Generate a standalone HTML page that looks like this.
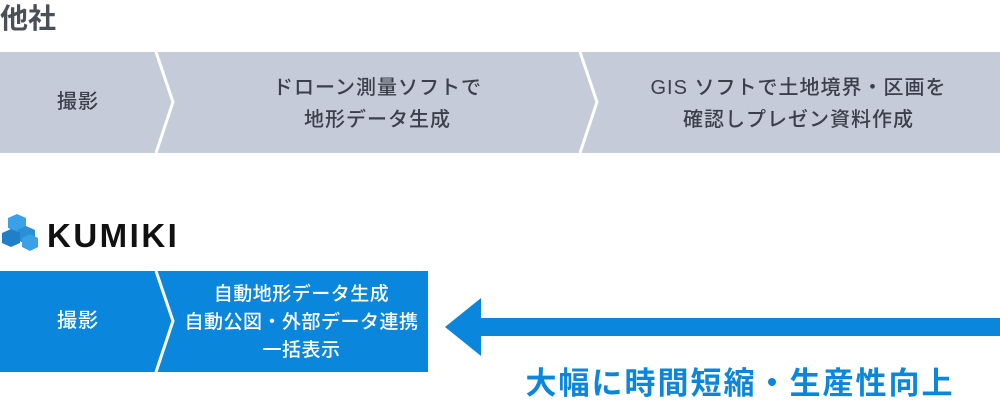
<!DOCTYPE html>
<html><head><meta charset="utf-8"><style>
body{margin:0;width:1000px;height:400px;background:#fff;position:relative;overflow:hidden;font-family:"Liberation Sans","Noto Sans CJK JP",sans-serif}
.t{position:absolute;text-align:center;line-height:32px;font-size:20px;letter-spacing:1px;font-weight:500}
</style></head><body>
<div class="t" style="left:0;top:0;font-size:28px;font-weight:bold;color:#4a4f58;line-height:38px;text-align:left;letter-spacing:0">他社</div>
<svg width="1000" height="400" style="position:absolute;left:0;top:0">
<rect x="0" y="52" width="1000" height="101" fill="#c5cbd9"/>
<polyline points="156,52 173,102 156,153" fill="none" stroke="#fff" stroke-width="3"/>
<polyline points="580,52 597,102 580,153" fill="none" stroke="#fff" stroke-width="3"/>
<rect x="0" y="271" width="428" height="101" fill="#0a87dc"/>
<polyline points="156,271 173,321 156,372" fill="none" stroke="#fff" stroke-width="3"/>
<rect x="480" y="318" width="520" height="18" fill="#0a87dc"/>
<polygon points="445,327 481,298 481,356" fill="#0a87dc"/>
<g>
<polygon points="17,214 26,218 26,228 17,232 8,228 8,218" fill="#3aa0e8"/>
<polygon points="26,226 35,230 35,240 26,244 17,240 17,230" fill="#2a8fd8"/>
<polygon points="11,229 20,233 20,243 11,247 2,243 2,233" fill="#1f7fc8"/>
<polygon points="30,234 38,238 38,247 30,251 22,247 22,238" fill="#3aa0e8"/>
</g>
</svg>
<div class="t" style="left:47px;top:216px;font-size:33px;font-weight:bold;color:#111;line-height:40px;letter-spacing:2.5px">KUMIKI</div>
<div class="t" style="left:0;width:156px;top:86px;color:#3a3f4a">撮影</div>
<div class="t" style="left:175px;width:405px;top:72px;color:#3a3f4a">ドローン測量ソフトで<br>地形データ生成</div>
<div class="t" style="left:597px;width:403px;top:72px;color:#3a3f4a">GIS ソフトで土地境界・区画を<br>確認しプレゼン資料作成</div>
<div class="t" style="left:0;width:156px;top:305px;color:#fff">撮影</div>
<div class="t" style="left:175px;width:253px;top:281px;color:#fff;line-height:28px;font-size:19px;letter-spacing:0.5px">自動地形データ生成<br>自動公図・外部データ連携<br>一括表示</div>
<div class="t" style="left:520px;width:440px;top:366px;color:#0a87dc;font-size:31px;font-weight:bold;line-height:36px;letter-spacing:2px">大幅に時間短縮・生産性向上</div>
</body></html>
